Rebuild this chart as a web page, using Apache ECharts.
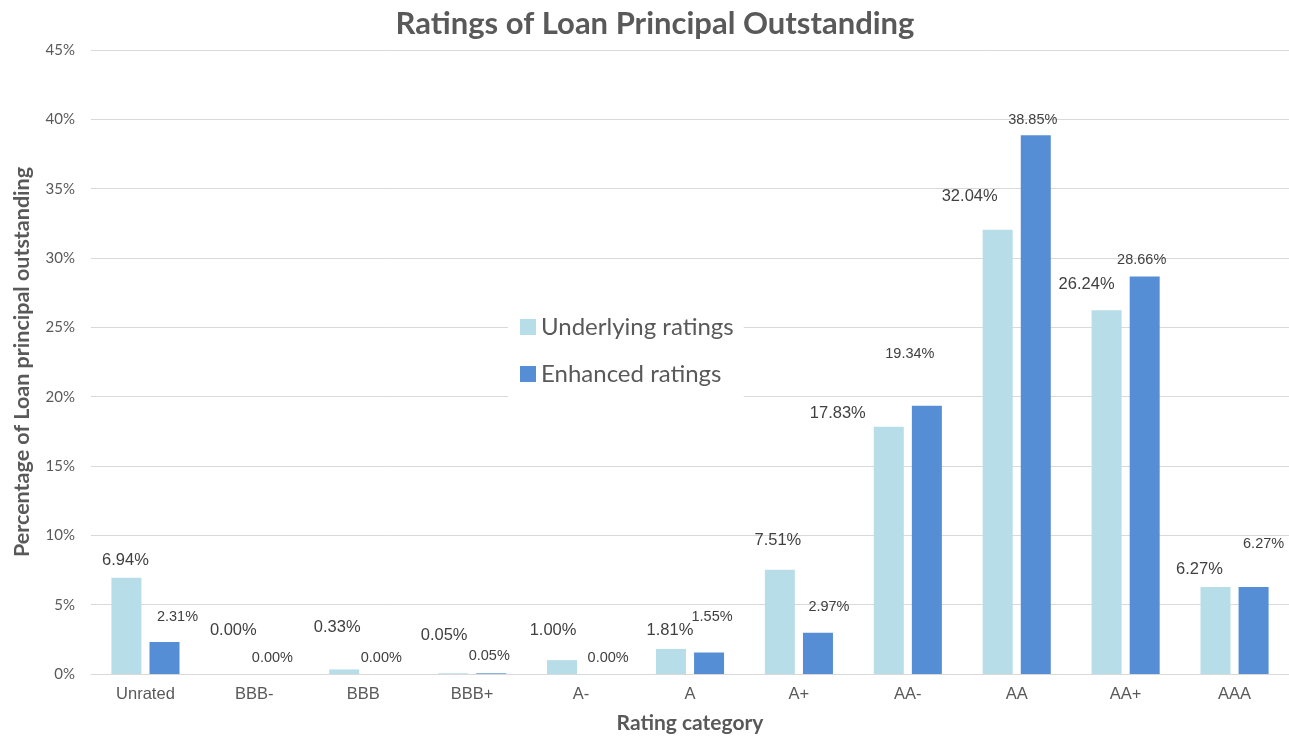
<!DOCTYPE html>
<html>
<head>
<meta charset="utf-8">
<title>Ratings of Loan Principal Outstanding</title>
<script src="https://cdn.jsdelivr.net/npm/echarts@6/dist/echarts.min.js"></script>
<style>
  html, body { margin: 0; padding: 0; background: #fff; }
  #chart { width: 1289px; height: 737px; }
</style>
</head>
<body>
<div id="chart"></div>
<script>
const categories = ['Unrated', 'BBB-', 'BBB', 'BBB+', 'A-', 'A', 'A+', 'AA-', 'AA', 'AA+', 'AAA']
const underlying = [6.94, 0.00, 0.33, 0.05, 1.00, 1.81, 7.51, 17.83, 32.04, 26.24, 6.27]
const enhanced = [2.31, 0.00, 0.00, 0.05, 0.00, 1.55, 2.97, 19.34, 38.85, 28.66, 6.27]
const yTicks = [0, 5, 10, 15, 20, 25, 30, 35, 40, 45]

// label nudges (px) so they sit where the original put them
const underlyingShift = [[-1, -9], [-2, -35], [-7, -33], [-9, -29], [-9, -21], [-1, -10], [-2, -21], [-51, -5], [-28, -25], [-20, -17], [-16, -9]]
const enhancedShift = [[13, -17], [-1, -9], [-1, -9], [-2, -10], [8, -9], [3, -28], [11, -18], [-17, -44], [-3, -8], [-3, -9], [10, -36]]

const chart = echarts.init(document.getElementById('chart'), null, { renderer: 'canvas' })

function barData(values, shifts, size) {
  return values.map((v, i) => ({
    value: v,
    label: {
      show: true,
      position: 'top',
      distance: 0,
      offset: shifts[i],
      fontSize: size,
      fontFamily: 'Liberation Sans, Arial, sans-serif',
      color: '#404040',
      formatter: p => p.value.toFixed(2) + '%'
    }
  }))
}

const option = {
  animation: false,
  backgroundColor: '#fff',
  title: {
    text: 'Ratings of Loan Principal Outstanding',
    left: 650,
    top: 3,
    textAlign: 'center',
    textStyle: {
      fontFamily: 'Lato, sans-serif',
      fontWeight: 'bold',
      fontSize: 31,
      color: '#595959'
    }
  },
  legend: {
    orient: 'vertical',
    left: 508,
    top: 301,
    padding: [14, 10, 14, 12],
    itemWidth: 16,
    itemHeight: 16,
    itemGap: 23,
    icon: 'rect',
    backgroundColor: '#fff',
    textStyle: {
      fontFamily: 'Lato, sans-serif',
      fontSize: 24,
      color: '#595959'
    },
    data: ['Underlying ratings', 'Enhanced ratings']
  },
  grid: {
    left: 91,
    right: 0,
    top: 50,
    bottom: 63,
    outerBoundsMode: 'none'
  },
  xAxis: {
    type: 'category',
    data: categories,
    name: 'Rating category',
    nameLocation: 'middle',
    nameGap: 39,
    nameTextStyle: {
      fontFamily: 'Lato, sans-serif',
      fontWeight: 'bold',
      fontSize: 21,
      color: '#595959'
    },
    axisTick: { show: false },
    axisLine: { lineStyle: { color: '#d9d9d9', width: 1 } },
    axisLabel: {
      fontFamily: 'Liberation Sans, Arial, sans-serif',
      fontSize: 16.5,
      color: '#595959',
      margin: 12
    }
  },
  yAxis: {
    type: 'value',
    min: yTicks[0],
    max: yTicks[yTicks.length - 1],
    interval: 5,
    name: 'Percentage of Loan principal outstanding',
    nameLocation: 'middle',
    nameGap: 58,
    nameTextStyle: {
      fontFamily: 'Lato, sans-serif',
      fontWeight: 'bold',
      fontSize: 21.5,
      color: '#595959'
    },
    axisLine: { show: false },
    axisTick: { show: false },
    axisLabel: {
      fontFamily: 'Lato, sans-serif',
      fontSize: 15,
      color: '#595959',
      margin: 16,
      formatter: '{value}%'
    },
    splitLine: { lineStyle: { color: '#d9d9d9', width: 1 } }
  },
  series: [
    {
      name: 'Underlying ratings',
      type: 'bar',
      barWidth: 30,
      barGap: '27%',
      itemStyle: { color: '#b7dde8' },
      data: barData(underlying, underlyingShift, 16.5)
    },
    {
      name: 'Enhanced ratings',
      type: 'bar',
      barWidth: 30,
      barGap: '27%',
      itemStyle: { color: '#558ed5' },
      data: barData(enhanced, enhancedShift, 14.5)
    }
  ]
}

chart.setOption(option)
window.addEventListener('resize', () => chart.resize())
</script>
</body>
</html>
